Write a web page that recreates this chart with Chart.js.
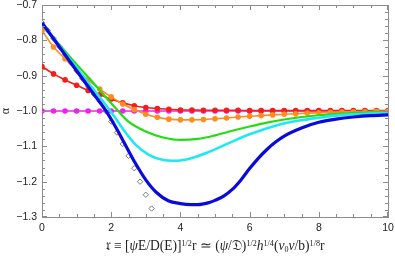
<!DOCTYPE html>
<html>
<head>
<meta charset="utf-8">
<script src="https://cdn.jsdelivr.net/npm/chart.js@4"></script>
<style>
  html, body { margin: 0; padding: 0; background: #fff; }
</style>
</head>
<body>
<canvas id="chart" width="395" height="258"></canvas>
<script>
// data
const markX = [0, 0.333, 0.667, 1, 1.333, 1.667, 2, 2.333, 2.667, 3, 3.333, 3.667, 4, 4.333, 4.667,
  5, 5.333, 5.667, 6, 6.333, 6.667, 7, 7.333, 7.667, 8, 8.333, 8.667, 9, 9.333, 9.667, 10];
const redY = [-0.874, -0.895, -0.912, -0.927, -0.942, -0.954, -0.966, -0.977, -0.985, -0.990, -0.993,
  -0.995, -0.997, -0.997, -0.998, -0.998, -0.998, -0.998, -0.999, -0.999, -0.999, -0.999, -0.999,
  -0.999, -0.999, -0.999, -0.999, -0.999, -0.999, -0.999, -0.999];
const orangeY = [-0.772, -0.819, -0.852, -0.884, -0.912, -0.938, -0.960, -0.980, -0.996, -1.009, -1.018,
  -1.023, -1.025, -1.025, -1.024, -1.022, -1.020, -1.017, -1.015, -1.013, -1.011, -1.009, -1.008,
  -1.006, -1.005, -1.004, -1.003, -1.002, -1.002, -1.001, -1.001];
const magentaY = [-1, -1, -1, -1, -1, -1, -1, -1, -1, -1, -1, -1, -1, -1, -1, -1,
  -1, -1, -1, -1, -1, -1, -1, -1, -1, -1, -1, -1, -1, -1, -1];

const greenX = [0, 0.5, 1, 1.5, 1.8, 2.2, 2.5, 3, 3.5, 4, 4.5, 5, 5.5, 6, 6.5, 7, 7.5, 8, 8.5, 9, 9.5, 10];
const greenY = [-0.757, -0.812, -0.868, -0.922, -0.956, -1.000, -1.030, -1.058, -1.075, -1.082, -1.079,
  -1.069, -1.056, -1.044, -1.033, -1.024, -1.017, -1.012, -1.008, -1.005, -1.004, -1.003];

const cyanX = [0, 0.5, 1, 1.5, 2, 2.32, 2.71, 3.09, 3.48, 3.87, 4.26, 4.75, 5.4, 6, 6.8, 7.5, 8, 8.5, 9, 9.5, 10];
const cyanY = [-0.752, -0.815, -0.878, -0.940, -1.003, -1.048, -1.096, -1.124, -1.138, -1.141, -1.135,
  -1.119, -1.091, -1.066, -1.040, -1.026, -1.019, -1.013, -1.009, -1.007, -1.005];

const blueX = [0, 0.5, 1, 1.5, 1.83, 2.12, 2.41, 2.7, 3, 3.3, 3.65, 4, 4.3, 4.5, 4.8, 5, 5.25, 5.5, 5.75,
  6, 6.25, 6.5, 6.75, 7, 7.5, 8, 8.5, 9, 9.5, 10];
const blueY = [-0.750, -0.818, -0.886, -0.953, -0.997, -1.044, -1.096, -1.148, -1.195, -1.230, -1.254,
  -1.262, -1.265, -1.265, -1.260, -1.253, -1.241, -1.222, -1.195, -1.163, -1.134, -1.109, -1.088,
  -1.071, -1.048, -1.032, -1.023, -1.017, -1.013, -1.011];

const diamondX = [0, 0.167, 0.333, 0.5, 0.667, 0.833, 1, 1.167, 1.333, 1.5, 1.667, 1.833, 2, 2.167,
  2.333, 2.5, 2.667, 2.833, 3, 3.167];
const diamondY = [-0.750, -0.772, -0.795, -0.818, -0.840, -0.863, -0.886, -0.908, -0.931, -0.952,
  -0.972, -1.000, -1.030, -1.061, -1.093, -1.127, -1.162, -1.200, -1.237, -1.276];

const xTickLabels = ['0', '2', '4', '6', '8', '10'];
const yTickLabels = ['−1.3', '−1.2', '−1.1', '−1.0', '−0.9', '−0.8', '−0.7'];

const frameColor = '#8c8c8c';

function pts(xs, ys) {
  return xs.map((x, i) => ({ x: x, y: ys[i] }));
}

function curve(xs, ys, color, width) {
  return {
    data: pts(xs, ys),
    showLine: true,
    borderColor: color,
    borderWidth: width,
    pointRadius: 0,
    cubicInterpolationMode: 'monotone'
  };
}

function dotted(ys, color) {
  return {
    data: pts(markX, ys),
    showLine: true,
    borderColor: color,
    borderWidth: 1.6,
    pointRadius: 2.8,
    pointBorderWidth: 0,
    pointBackgroundColor: color,
    cubicInterpolationMode: 'monotone'
  };
}

// blank axis on the opposite side, only for the frame line
function sideAxis(pos, min, max) {
  return {
    type: 'linear', position: pos, min: min, max: max,
    grid: { display: false, tickLength: 0 },
    ticks: { display: false },
    border: { display: true, color: frameColor, width: 1 },
    afterFit: s => {
      if (pos === 'top') s.height = 0; else s.width = 0;
      s.paddingTop = s.paddingBottom = s.paddingLeft = s.paddingRight = 0;
    }
  };
}

// inward ticks on all four sides
const ticksPlugin = {
  id: 'inticks',
  afterDatasetsDraw(chart) {
    const ctx = chart.ctx, a = chart.chartArea;
    const sx = chart.scales.x, sy = chart.scales.y;
    ctx.save();
    ctx.fillStyle = frameColor;
    const L = Math.round(a.left), R = Math.round(a.right) - 1;
    const T = Math.round(a.top), B = Math.round(a.bottom) - 1;
    for (let i = 0; i <= 20; i++) {
      const px = Math.min(R, Math.round(sx.getPixelForValue(i * 0.5)));
      const len = i % 4 === 0 ? 5 : 3;
      ctx.fillRect(px, B - len + 1, 1, len);
      ctx.fillRect(px, T, 1, len);
    }
    for (let i = 0; i <= 30; i++) {
      const py = Math.min(B, Math.round(sy.getPixelForValue(-1.3 + i * 0.02)));
      const len = i % 5 === 0 ? 5 : 3;
      ctx.fillRect(L, py, len, 1);
      ctx.fillRect(R - len + 1, py, len, 1);
    }
    ctx.restore();
  }
};

// axis titles with super/subscripts
const labelPlugin = {
  id: 'axislabels',
  afterDraw(chart) {
    const ctx = chart.ctx, a = chart.chartArea;
    ctx.save();
    ctx.fillStyle = '#222';
    ctx.font = '12px "Liberation Serif"';
    ctx.textAlign = 'center';
    ctx.textBaseline = 'middle';
    ctx.translate(6, (a.top + a.bottom) / 2);
    ctx.rotate(-Math.PI / 2);
    ctx.fillText('α', 0, 0);
    ctx.restore();

    ctx.save();
    const segs = [
      ['𝔯', ''], [' ≡ [', ''], ['ψ', 'italic'], ['E/D(E)]', ''],
      ['1/2', '', 0.6, -4.5], ['r', ''], [' ≃ (', ''], ['ψ', 'italic'], ['/', ''], ['𝔇', ''], [')', ''],
      ['1/2', '', 0.6, -4.5], ['h', 'italic'], ['1/4', '', 0.6, -4.5], ['(', ''], ['ν', 'italic'],
      ['0', '', 0.6, 2], ['ν', 'italic'], ['/b)', ''], ['1/8', '', 0.6, -4.5], ['r', '']
    ];
    ctx.textAlign = 'left';
    ctx.textBaseline = 'alphabetic';
    ctx.fillStyle = '#222';
    let base = 12;
    const fontOf = s => (s[1] ? s[1] + ' ' : '') + (base * (s[2] || 1)).toFixed(2) + 'px "Liberation Serif"';
    const widthAll = () => {
      let w = 0;
      segs.forEach(s => { ctx.font = fontOf(s); w += ctx.measureText(s[0]).width; });
      return w;
    };
    base = base * 218 / widthAll();
    let cx = (a.left + a.right) / 2 - widthAll() / 2;
    segs.forEach(s => {
      ctx.font = fontOf(s);
      ctx.fillText(s[0], cx, 250 + (s[3] || 0));
      cx += ctx.measureText(s[0]).width;
    });
    ctx.restore();
  }
};

new Chart(document.getElementById('chart'), {
  type: 'scatter',
  data: {
    datasets: [
      curve(blueX, blueY, '#0a0adc', 3.2),
      curve(cyanX, cyanY, '#1ee8f0', 2.6),
      curve(greenX, greenY, '#22dd11', 2.2),
      dotted(orangeY, '#ff8c1e'),
      dotted(redY, '#f51c1c'),
      dotted(magentaY, '#f020f0'),
      {
        data: pts(diamondX, diamondY),
        showLine: false,
        pointStyle: 'rectRot',
        pointRadius: 2.7,
        borderWidth: 1,
        borderColor: '#7a7a7a',
        backgroundColor: '#fff'
      }
    ]
  },
  options: {
    responsive: false,
    animation: false,
    devicePixelRatio: 1,
    layout: { padding: { top: 5, right: 7, left: 0, bottom: 0 } },
    plugins: { legend: { display: false }, tooltip: { enabled: false } },
    scales: {
      x: {
        type: 'linear', position: 'bottom', min: 0, max: 10,
        grid: { display: false, tickLength: 0 },
        border: { display: true, color: frameColor, width: 1 },
        afterBuildTicks: s => { s.ticks = xTickLabels.map(t => ({ value: Number(t) })); },
        afterFit: s => { s.height = 41; s.paddingLeft = 0; s.paddingRight = 0; },
        ticks: {
          padding: 5,
          color: '#222',
          font: { family: 'Liberation Sans', size: 10.5 },
          maxRotation: 0,
          callback: (v, i) => xTickLabels[i]
        }
      },
      y: {
        type: 'linear', position: 'left', min: -1.3, max: -0.7,
        grid: { display: false, tickLength: 0 },
        border: { display: true, color: frameColor, width: 1 },
        afterBuildTicks: s => { s.ticks = yTickLabels.map(t => ({ value: Number(t.replace('−', '-')) })); },
        afterFit: s => { s.width = 42; s.paddingTop = 0; s.paddingBottom = 0; },
        ticks: {
          padding: 5,
          color: '#222',
          font: { family: 'Liberation Sans', size: 10.5 },
          callback: (v, i) => yTickLabels[i]
        }
      },
      x2: sideAxis('top', 0, 10),
      y2: sideAxis('right', -1.3, -0.7)
    }
  },
  plugins: [ticksPlugin, labelPlugin]
});
</script>
</body>
</html>
